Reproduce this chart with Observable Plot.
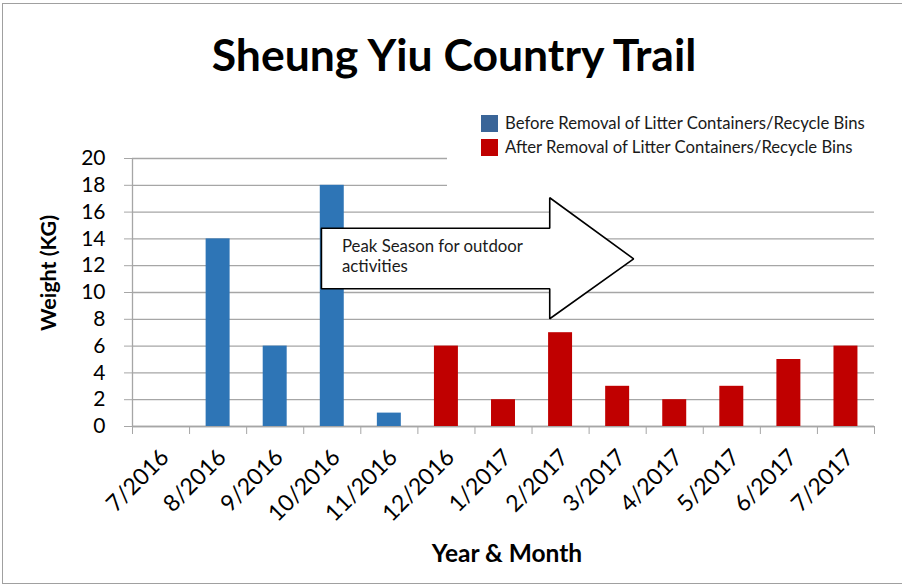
<!DOCTYPE html>
<html>
<head>
<meta charset="utf-8">
<script src="https://cdn.jsdelivr.net/npm/d3@7"></script>
<script src="https://cdn.jsdelivr.net/npm/@observablehq/plot@0.6"></script>
<style>
  html, body { margin: 0; padding: 0; background: #fff; overflow: hidden; }
  #wrap { position: relative; width: 902px; height: 586px; font-family: Lato, "Noto Sans", sans-serif; color: #000; }
  #frame { position: absolute; left: 2px; top: 3px; width: 1000px; height: 579px; border: 1.5px solid #a0a0a0; border-right: none; pointer-events: none; }
  #title { position: absolute; left: 0; width: 908px; top: 28px; text-align: center; font-weight: 700; font-size: 44.5px; line-height: 52px; white-space: nowrap; }
  #legend { position: absolute; left: 447px; top: 104px; width: 455px; height: 86px; background: #fff; }
  .lg { position: absolute; left: 58px; font-size: 16.7px; line-height: 18px; white-space: nowrap; color: #1a1a1a; }
  .sw { position: absolute; left: 0; top: 1px; width: 17px; height: 17px; margin-left: -24px; }
  #ytitle { position: absolute; left: 48px; top: 273px; transform: translate(-50%, -50%) rotate(-90deg); font-weight: 700; font-size: 21.5px; white-space: nowrap; }
  #xtitle { position: absolute; left: 507px; top: 552px; transform: translate(-50%, -50%); font-weight: 700; font-size: 24.5px; white-space: nowrap; }
  svg { position: absolute; left: 0; top: 0; }
</style>
</head>
<body>
<div id="wrap">
  <div id="chart"></div>
  <div id="frame"></div>
  <div id="title">Sheung Yiu Country Trail</div>
  <div id="legend"></div>
  <div id="ytitle">Weight (KG)</div>
  <div id="xtitle">Year &amp; Month</div>
</div>
<script>
// ---- data ----
const months = ["7/2016","8/2016","9/2016","10/2016","11/2016","12/2016","1/2017","2/2017","3/2017","4/2017","5/2017","6/2017","7/2017"];
const weights = [0, 14, 6, 18, 1, 6, 2, 7, 3, 2, 3, 5, 6];
const periods = ["Before","Before","Before","Before","Before","After","After","After","After","After","After","After","After"];
const seriesNames = ["Before Removal of Litter Containers/Recycle Bins", "After Removal of Litter Containers/Recycle Bins"];
const seriesKeys = ["Before", "After"];
const seriesColors = ["#2E75B6", "#C00000"];
const legendColors = ["#3A6598", "#C00000"];
const yTicks = [0, 2, 4, 6, 8, 10, 12, 14, 16, 18, 20];

// annotation arrow (x in month-index units, y in KG)
const arrowShape = [
  {x: 3.31, y: 14.8}, {x: 7.31, y: 14.8}, {x: 7.31, y: 17.07}, {x: 8.78, y: 12.51},
  {x: 7.31, y: 8.04}, {x: 7.31, y: 10.28}, {x: 3.31, y: 10.28}, {x: 3.31, y: 14.8}
];
const arrowText = [
  {x: 3.67, y: 13.05, t: "Peak Season for outdoor"},
  {x: 3.67, y: 11.5, t: "activities"}
];

const data = months.map((m, i) => ({i, month: m, value: weights[i], period: periods[i]}));
const grid = "#a6a6a6";

const plot = Plot.plot({
  width: 902,
  height: 586,
  marginLeft: 132,
  marginRight: 28,
  marginTop: 158,
  marginBottom: 160,
  style: {fontFamily: "Lato, 'Noto Sans', sans-serif", fontSize: "21px", color: "#000", background: "transparent"},
  x: {domain: [0, months.length], axis: null},
  y: {domain: [0, 20], axis: null},
  color: {domain: seriesKeys, range: seriesColors},
  marks: [
    Plot.gridY(yTicks, {stroke: grid, strokeOpacity: 1, strokeWidth: 1.3}),
    Plot.axisY(yTicks, {tickSize: 8, tickPadding: 19, stroke: grid, strokeOpacity: 1, fill: "#000", fontSize: 21, label: null}),
    Plot.axisX(d3.range(0, months.length + 1), {tickSize: 8, stroke: grid, strokeOpacity: 1, tickFormat: () => "", label: null}),
    Plot.ruleX([0], {stroke: grid, strokeWidth: 1.3}),
    Plot.ruleY([0], {stroke: grid, strokeWidth: 1.3}),
    Plot.rectY(data, {x1: d => d.i + 0.29, x2: d => d.i + 0.71, y: "value", fill: "period"}),
    Plot.line(arrowShape, {x: "x", y: "y", fill: "#fff", stroke: "#000", strokeWidth: 1.6, strokeLinejoin: "miter"}),
    Plot.text(arrowText, {x: "x", y: "y", text: "t", textAnchor: "start", fontSize: 16.8, fill: "#1a1a1a", lineAnchor: "bottom"}),
    Plot.text(data, {x: d => d.i + 0.5, y: 0, text: "month", rotate: -45, textAnchor: "end", dx: 4, dy: 27, fontSize: 23, fill: "#000"})
  ]
});
document.getElementById("chart").appendChild(plot);

// legend
const lg = document.getElementById("legend");
seriesNames.forEach((name, k) => {
  const row = document.createElement("div");
  row.className = "lg";
  row.style.top = (10 + k * 23.5) + "px";
  const sw = document.createElement("span");
  sw.className = "sw";
  sw.style.background = legendColors[k];
  row.appendChild(sw);
  row.appendChild(document.createTextNode(name));
  lg.appendChild(row);
});
</script>
</body>
</html>
